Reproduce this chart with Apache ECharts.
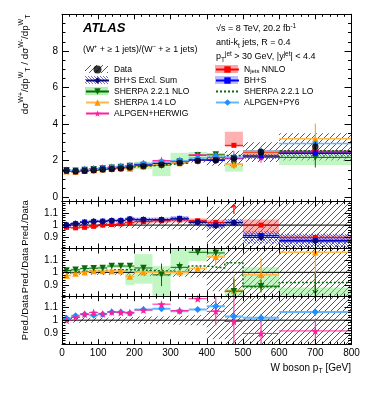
<!DOCTYPE html>
<html>
<head>
<meta charset="utf-8">
<script src="https://cdn.jsdelivr.net/npm/echarts@6.0.0/dist/echarts.min.js"></script>
</head>
<body style="margin: 0">
<div id="container" style="width: 374px; height: 396px"></div>
<script type="text/javascript">
// W boson pT bin edges [GeV]
var edges = [0, 25, 50, 75, 100, 125, 150, 175, 200, 250, 300, 350, 400, 450, 500, 600, 800];

// measured (W+ + >=1 jet)/(W- + >=1 jet) ratio
var dataVal = [1.46, 1.42, 1.45, 1.48, 1.52, 1.54, 1.58, 1.63, 1.70, 1.78, 1.87, 1.98, 2.03, 2.12, 2.47, 2.76];
var dataSyst = [0.02, 0.02, 0.02, 0.02, 0.02, 0.02, 0.025, 0.025, 0.03, 0.03, 0.035, 0.04, 0.15, 0.20, 0.22, 0.27];
var dataStat = [0.004, 0.004, 0.005, 0.005, 0.006, 0.007, 0.008, 0.009, 0.01, 0.013, 0.017, 0.022, 0.03, 0.045, 0.06, 0.09];

// Pred./Data, top ratio panel
var bhsExcl = [1.000, 1.010, 1.022, 1.030, 1.030, 1.036, 1.036, 1.048, 1.043, 1.043, 1.050, 1.022, 0.995, 1.020, 0.900, 0.870];
var bhsExclErr = [0.012, 0.012, 0.012, 0.012, 0.012, 0.013, 0.013, 0.014, 0.015, 0.016, 0.018, 0.02, 0.025, 0.03, 0.05, 0.06];
var njets = [0.982, 0.978, 0.982, 0.990, 1.000, 1.005, 1.010, 1.020, 1.028, 1.035, 1.042, 1.035, 1.022, 1.34, 1.000, 0.900];
var njetsLo = [0.972, 0.968, 0.972, 0.978, 0.988, 0.993, 0.996, 1.005, 1.012, 1.018, 1.022, 1.015, 1.000, 1.30, 0.930, 0.875];
var njetsHi = [0.992, 0.988, 0.992, 1.002, 1.012, 1.017, 1.024, 1.035, 1.044, 1.052, 1.062, 1.055, 1.044, 1.69, 1.045, 0.920];
var bhs = [1.000, 1.012, 1.025, 1.030, 1.032, 1.037, 1.038, 1.050, 1.046, 1.045, 1.055, 1.025, 1.000, 1.020, 0.915, 0.875];
var bhsErr = [0.012, 0.012, 0.012, 0.013, 0.013, 0.014, 0.014, 0.015, 0.016, 0.017, 0.018, 0.02, 0.022, 0.025, 0.02, 0.02];

// Pred./Data, middle ratio panel
var sherpaNlo = [1.015, 1.020, 1.030, 1.033, 1.035, 1.050, 1.050, 1.050, 1.035, 0.980, 1.040, 1.160, 1.155, 0.850, 0.890, 0.790];
var sherpaNloErr = [0.005, 0.005, 0.005, 0.006, 0.006, 0.007, 0.008, 0.01, 0.012, 0.09, 0.04, 0.02, 0.04, 0.1, 0.05, 0.2];
var sherpaNloLo = [1.003, 1.008, 1.018, 1.020, 1.020, 1.035, 1.035, 0.900, 0.910, 0.650, 0.980, 1.090, 1.115, 0.660, 0.870, 0.640];
var sherpaNloHi = [1.027, 1.032, 1.042, 1.046, 1.050, 1.065, 1.065, 1.055, 1.145, 1.050, 1.300, 1.250, 1.190, 0.870, 1.040, 0.880];
var sherpa14 = [0.975, 0.990, 1.000, 1.010, 1.010, 1.010, 1.010, 0.967, 1.000, 1.000, 1.000, 1.030, 1.125, 0.855, 0.980, 1.160];
var sherpa14Err = [0.006, 0.006, 0.006, 0.006, 0.007, 0.007, 0.008, 0.009, 0.01, 0.012, 0.015, 0.02, 0.06, 0.12, 0.13, 0.3];
var sherpaLo = [0.995, 1.005, 1.010, 1.010, 1.015, 1.020, 1.020, 1.020, 1.015, 1.010, 1.000, 1.050, 1.035, 1.076, 0.885, 0.920];

// Pred./Data, bottom ratio panel
var alpPy6 = [1.015, 1.036, 1.047, 1.040, 1.047, 1.064, 1.064, 1.055, 1.085, 1.090, 1.070, 1.085, 1.110, 1.030, 1.020, 1.065];
var alpPy6Err = [0.005, 0.005, 0.006, 0.006, 0.006, 0.007, 0.007, 0.008, 0.01, 0.01, 0.012, 0.015, 0.03, 0.03, 0.03, 0.03];
var alpHw = [1.000, 1.022, 1.047, 1.060, 1.050, 1.064, 1.060, 1.060, 1.080, 1.127, 1.076, 1.170, 1.070, 0.990, 0.895, 0.915];
var alpHwErr = [0.01, 0.01, 0.01, 0.01, 0.01, 0.01, 0.012, 0.012, 0.015, 0.02, 0.02, 0.02, 0.11, 0.2, 0.13, 0.1];

var centers = dataVal.map(function (v, i) { return (edges[i] + edges[i + 1]) / 2; });

var FONT = '"Liberation Sans", Arial, sans-serif';
var RMIN = 0.81, RMAX = 1.19;
var NAVY = '#0c0c70', RED = '#ff0000', BLUE = '#0000ff', GREEN = '#0a690a',
    ORANGE = '#ff9900', ORANGE_L = '#ffb84d', PINK = '#ff1e9b', LBLUE = '#1e8fff', LBLUE_L = '#66b5ff';
var STAR = 'path://M0,-10L2.35,-3.24L9.51,-3.09L3.8,1.24L5.88,8.09L0,4L-5.88,8.09L-3.8,1.24L-9.51,-3.09L-2.35,-3.24Z';

var dom = document.getElementById("container");
var myChart = echarts.init(dom);

function hatch(color, step, dir, width, back) {
    var c = document.createElement('canvas');
    c.width = c.height = step;
    var ctx = c.getContext('2d');
    if (back) { ctx.fillStyle = back; ctx.fillRect(0, 0, step, step); }
    ctx.strokeStyle = color;
    ctx.lineWidth = width;
    ctx.beginPath();
    for (var k = -1; k <= 1; k++) {
        if (dir > 0) { ctx.moveTo(k * step, step); ctx.lineTo(k * step + step, 0); }
        else { ctx.moveTo(k * step, 0); ctx.lineTo(k * step + step, step); }
    }
    ctx.stroke();
    return {image: c, repeat: 'repeat'};
}
var dataHatch = hatch('#444', 6, 1, 0.9);
var exclHatch = hatch('#3535b0', 3, -1, 0.7);

// panels: main + three ratio panels
var panels = [
    {top: 14.3, height: 187.4, min: -0.24, max: 10, major: [0, 2, 4, 6, 8], step: 0.5},
    {top: 201.7, height: 46.8, min: RMIN, max: RMAX, major: [0.9, 1, 1.1], step: 0.02},
    {top: 248.5, height: 47.7, min: RMIN, max: RMAX, major: [0.9, 1, 1.1], step: 0.02},
    {top: 296.2, height: 48.0, min: RMIN, max: RMAX, major: [0.9, 1, 1.1], step: 0.02}
];

var grid = [], xAxis = [], yAxis = [];
panels.forEach(function (p, g) {
    grid.push({left: 62, top: p.top, width: 289.5, height: p.height});
    ['bottom', 'top'].forEach(function (pos) {
        xAxis.push({
            gridIndex: g, type: 'value', min: 0, max: 800, interval: 100, position: pos, z: 10,
            axisLine: {show: true, onZero: false, lineStyle: {color: '#000', width: 1}},
            axisTick: {show: true, inside: true, length: 5, lineStyle: {color: '#000', width: 1}},
            minorTick: {show: true, splitNumber: 5, length: 2.5, lineStyle: {color: '#000', width: 1}},
            axisLabel: {show: g === 3 && pos === 'bottom', color: '#000', fontSize: 10, fontFamily: FONT, margin: 4},
            splitLine: {show: false}
        });
    });
    var minors = [];
    for (var v = Math.ceil(p.min / p.step) * p.step; v <= p.max + 1e-9; v += p.step) {
        minors.push(+v.toFixed(4));
    }
    ['left', 'right'].forEach(function (pos) {
        [[p.major, 7, pos === 'left'], [minors, 3.5, false]].forEach(function (t) {
            yAxis.push({
                gridIndex: g, type: 'value', min: p.min, max: p.max, position: pos, z: 10,
                axisLine: {show: true, onZero: false, lineStyle: {color: '#000', width: 1}},
                axisTick: {show: true, inside: true, length: t[1], customValues: t[0], lineStyle: {color: '#000', width: 1}},
                axisLabel: {show: t[2], customValues: t[0], color: '#000', fontSize: 10, fontFamily: FONT, margin: 4},
                splitLine: {show: false}
            });
        });
    });
});

function scaled(v, i, scale) { return scale ? v * scale[i] : v; }

function bandSeries(g, lo, hi, scale, fill, z) {
    var rows = lo.map(function (l, i) {
        return [edges[i], edges[i + 1], scaled(l, i, scale), scaled(hi[i], i, scale)];
    });
    return {
        type: 'custom', xAxisIndex: 2 * g, yAxisIndex: 4 * g, data: rows, z: z, silent: true,
        encode: {x: [0, 1], y: [2, 3]},
        renderItem: function (params, api) {
            var a = api.coord([api.value(0), api.value(3)]);
            var b = api.coord([api.value(1), api.value(2)]);
            var cs = params.coordSys;
            var r = echarts.graphic.clipRectByRect(
                {x: a[0], y: a[1], width: b[0] - a[0], height: b[1] - a[1]},
                {x: cs.x, y: cs.y, width: cs.width, height: cs.height});
            return r ? {type: 'rect', shape: r, style: {fill: fill}} : null;
        }
    };
}

function symBand(g, vals, err, scale, fill, z) {
    return bandSeries(g, vals.map(function (v, i) { return v - err[i]; }),
        vals.map(function (v, i) { return v + err[i]; }), scale, fill, z);
}

function barSeries(g, vals, err, scale, color, z) {
    var rows = vals.map(function (v, i) {
        return [centers[i], scaled(v - err[i], i, scale), scaled(v + err[i], i, scale)];
    });
    return {
        type: 'custom', xAxisIndex: 2 * g, yAxisIndex: 4 * g, data: rows, z: z || 3, silent: true,
        encode: {x: 0, y: [1, 2]},
        renderItem: function (params, api) {
            var cs = params.coordSys;
            var a = api.coord([api.value(0), api.value(2)]);
            var b = api.coord([api.value(0), api.value(1)]);
            var y1 = Math.max(a[1], cs.y), y2 = Math.min(b[1], cs.y + cs.height);
            if (y2 <= y1) return null;
            return {type: 'line', shape: {x1: a[0], y1: y1, x2: a[0], y2: y2}, style: {stroke: color, lineWidth: 1}};
        }
    };
}

function stepItems(vals, scale) {
    var out = [];
    vals.forEach(function (v, i) {
        var y = scaled(v, i, scale);
        out.push({value: [edges[i], y], symbol: 'none'});
        out.push({value: [centers[i], y]});
        out.push({value: [edges[i + 1], y], symbol: 'none'});
        out.push([edges[i + 1], null]);
    });
    return out;
}

function lineSeries(name, g, vals, scale, mark, line, width, symbol, size, rotate) {
    return {
        name: name, type: 'line', xAxisIndex: 2 * g, yAxisIndex: 4 * g, data: stepItems(vals, scale),
        symbol: symbol, symbolSize: size, symbolRotate: rotate || 0,
        showSymbol: true, showAllSymbol: true, connectNulls: false, clip: true, z: 4, silent: true,
        itemStyle: {color: mark, borderWidth: 0},
        lineStyle: {color: line, width: width}
    };
}

function histSeries(name, g, vals, scale) {
    var pts = vals.map(function (v, i) { return [edges[i], scaled(v, i, scale)]; });
    pts.push([edges[vals.length], scaled(vals[vals.length - 1], vals.length - 1, scale)]);
    return {
        name: name, type: 'line', step: 'end', xAxisIndex: 2 * g, yAxisIndex: 4 * g, data: pts,
        symbol: 'none', clip: true, z: 4, silent: true,
        itemStyle: {color: GREEN},
        lineStyle: {color: GREEN, width: 1.5, type: [2, 2]}
    };
}

function arrowSeries(g, vals, color) {
    var rows = [];
    vals.forEach(function (v, i) {
        if (v > RMAX) rows.push([centers[i], 1]);
        else if (v < RMIN) rows.push([centers[i], -1]);
    });
    return {
        type: 'custom', xAxisIndex: 2 * g, yAxisIndex: 4 * g, data: rows, z: 5, silent: true,
        renderItem: function (params, api) {
            var dir = api.value(1);
            var x = api.coord([api.value(0), 1])[0];
            var tip = api.coord([0, dir > 0 ? 1.165 : 0.835])[1];
            var base = api.coord([0, dir > 0 ? 1.09 : 0.91])[1];
            return {type: 'group', children: [
                {type: 'line', shape: {x1: x, y1: base, x2: x, y2: tip}, style: {stroke: color, lineWidth: 1.2}},
                {type: 'polyline', shape: {points: [[x - 2.5, tip + dir * 3], [x, tip], [x + 2.5, tip + dir * 3]]},
                    style: {stroke: color, fill: null, lineWidth: 1.2}}
            ]};
        }
    };
}

function unitLine(g) {
    return {type: 'line', xAxisIndex: 2 * g, yAxisIndex: 4 * g, data: [[0, 1], [800, 1]], symbol: 'none',
        z: 2, silent: true, lineStyle: {color: '#000', width: 1}};
}

var ones = dataVal.map(function () { return 1; });
var series = [];

// ---- main panel
series.push(symBand(0, ones, dataSyst, dataVal, dataHatch, 1));
series.push(bandSeries(0, sherpaNloLo, sherpaNloHi, dataVal, 'rgba(120,235,120,0.45)', 2));
series.push(bandSeries(0, njetsLo, njetsHi, dataVal, 'rgba(255,60,60,0.4)', 2));
series.push(symBand(0, bhs, bhsErr, dataVal, 'rgba(90,90,255,0.35)', 2));
series.push(symBand(0, bhsExcl, bhsExclErr, dataVal, exclHatch, 2));
series.push(lineSeries('BH+S Excl. Sum', 0, bhsExcl, dataVal, NAVY, NAVY, 1, 'diamond', 7));
series.push(lineSeries('SHERPA 2.2.1 NLO', 0, sherpaNlo, dataVal, GREEN, GREEN, 1, 'triangle', 6.5, 180));
series.push(lineSeries('SHERPA 1.4 LO', 0, sherpa14, dataVal, ORANGE, ORANGE_L, 1.5, 'triangle', 6.5));
series.push(lineSeries('ALPGEN+HERWIG', 0, alpHw, dataVal, PINK, PINK, 1, STAR, 8));
series.push(lineSeries('Njets NNLO', 0, njets, dataVal, RED, RED, 1, 'rect', 5));
series.push(lineSeries('BH+S', 0, bhs, dataVal, BLUE, BLUE, 1, 'rect', 5));
series.push(histSeries('SHERPA 2.2.1 LO', 0, sherpaLo, dataVal));
series.push(lineSeries('ALPGEN+PY6', 0, alpPy6, dataVal, LBLUE, LBLUE_L, 1.5, 'diamond', 7));
series.push(barSeries(0, sherpaNlo, sherpaNloErr, dataVal, GREEN));
series.push(barSeries(0, sherpa14, sherpa14Err, dataVal, ORANGE));
series.push(barSeries(0, alpHw, alpHwErr, dataVal, PINK));
series.push(barSeries(0, ones, dataStat, dataVal, '#000', 6));
series.push({
    name: 'Data', type: 'scatter', xAxisIndex: 0, yAxisIndex: 0, z: 7, silent: true,
    data: dataVal.map(function (v, i) { return [centers[i], v]; }),
    symbol: 'circle', symbolSize: 6.5, itemStyle: {color: '#000'}
});

// ---- ratio panel 1
series.push(symBand(1, ones, dataSyst, null, dataHatch, 1));
series.push(unitLine(1));
series.push(bandSeries(1, njetsLo, njetsHi, null, 'rgba(255,60,60,0.4)', 2));
series.push(symBand(1, bhs, bhsErr, null, 'rgba(90,90,255,0.35)', 2));
series.push(symBand(1, bhsExcl, bhsExclErr, null, exclHatch, 2));
series.push(lineSeries(null, 1, njets, null, RED, RED, 1, 'rect', 5));
series.push(lineSeries(null, 1, bhs, null, BLUE, BLUE, 1, 'rect', 5));
series.push(lineSeries(null, 1, bhsExcl, null, NAVY, NAVY, 1, 'diamond', 7));
series.push(arrowSeries(1, njets, RED));

// ---- ratio panel 2
series.push(symBand(2, ones, dataSyst, null, dataHatch, 1));
series.push(unitLine(2));
series.push(bandSeries(2, sherpaNloLo, sherpaNloHi, null, 'rgba(120,235,120,0.45)', 2));
series.push(histSeries(null, 2, sherpaLo, null));
series.push(lineSeries(null, 2, sherpa14, null, ORANGE, ORANGE_L, 1.5, 'triangle', 6.5));
series.push(lineSeries(null, 2, sherpaNlo, null, GREEN, GREEN, 1, 'triangle', 6.5, 180));
series.push(barSeries(2, sherpa14, sherpa14Err, null, ORANGE));
series.push(barSeries(2, sherpaNlo, sherpaNloErr, null, GREEN));
series.push(arrowSeries(2, sherpaNlo, GREEN));

// ---- ratio panel 3
series.push(symBand(3, ones, dataSyst, null, dataHatch, 1));
series.push(unitLine(3));
series.push(lineSeries(null, 3, alpPy6, null, LBLUE, LBLUE_L, 2, 'diamond', 7));
series.push(lineSeries(null, 3, alpHw, null, PINK, PINK, 1, STAR, 8));
series.push(barSeries(3, alpPy6, alpPy6Err, null, LBLUE));
series.push(barSeries(3, alpHw, alpHwErr, null, PINK));

var legendText = {fontSize: 8.5, fontFamily: FONT, color: '#000', lineHeight: 10,
    rich: {n: {fontSize: 8.5, fontFamily: FONT}, s: {fontSize: 6, fontFamily: FONT, verticalAlign: 'bottom'}}};
var legendBase = {orient: 'vertical', top: 64.5, itemWidth: 23, itemHeight: 8, itemGap: 1, padding: 0,
    selectedMode: false, textStyle: legendText};

var rich = {
    n: {fontSize: 9, fontFamily: FONT, lineHeight: 13},
    sup: {fontSize: 6.5, fontFamily: FONT, verticalAlign: 'top'},
    sub: {fontSize: 6.5, fontFamily: FONT, verticalAlign: 'bottom'}
};
var richY = {
    n: {fontSize: 9.8, fontFamily: FONT, lineHeight: 14},
    sup: {fontSize: 7, fontFamily: FONT, verticalAlign: 'top'},
    sub: {fontSize: 7, fontFamily: FONT, verticalAlign: 'bottom'}
};

function legendBox(x, row, fill) {
    return {type: 'rect', shape: {x: x, y: 65 + 11 * row, width: 23, height: 8}, style: {fill: fill}, z: 1};
}

option = {
    animation: false,
    grid: grid,
    xAxis: xAxis,
    yAxis: yAxis,
    legend: [
        Object.assign({left: 85, data: ['Data', 'BH+S Excl. Sum', 'SHERPA 2.2.1 NLO', 'SHERPA 1.4 LO', 'ALPGEN+HERWIG']}, legendBase),
        Object.assign({left: 215, data: ['Njets NNLO', 'BH+S', {name: 'SHERPA 2.2.1 LO', itemStyle: {opacity: 0}}, 'ALPGEN+PY6'],
            formatter: function (name) { return name === 'Njets NNLO' ? '{n|N}{s|jets}{n| NNLO}' : name; }}, legendBase)
    ],
    graphic: [
        legendBox(85, 0, dataHatch),
        legendBox(85, 1, exclHatch),
        legendBox(85, 2, 'rgba(120,235,120,0.6)'),
        legendBox(215, 0, 'rgba(255,60,60,0.45)'),
        legendBox(215, 1, 'rgba(90,90,255,0.4)'),
        {type: 'text', x: 83, y: 28, style: {text: 'ATLAS', fontSize: 13, fontWeight: 'bold', fontStyle: 'italic',
            fontFamily: FONT, fill: '#000', verticalAlign: 'middle'}},
        {type: 'text', x: 83, y: 50, style: {text: '(W\u207A + \u2265 1 jets)/(W\u207B + \u2265 1 jets)', fontSize: 8.9,
            fontFamily: FONT, fill: '#000', verticalAlign: 'middle'}},
        {type: 'text', x: 216, y: 29, style: {text: '{n|\u221As = 8 TeV, 20.2 fb}{sup|-1}', rich: rich, fill: '#000', verticalAlign: 'middle'}},
        {type: 'text', x: 216, y: 43, style: {text: '{n|anti-k}{sub|t}{n| jets, R = 0.4}', rich: rich, fill: '#000', verticalAlign: 'middle'}},
        {type: 'text', x: 216, y: 57, style: {text: '{n|p}{sub|T}{sup|jet}{n| > 30 GeV, |y}{sup|jet}{n|| < 4.4}', rich: rich, fill: '#000', verticalAlign: 'middle'}},
        {type: 'text', x: 25, y: 14.5, rotation: Math.PI / 2, style: {
            text: '{n|d\u03C3}{sup|W+}{n|/dp}{sup|W}{sub|T}{n| / d\u03C3}{sup|W-}{n|/dp}{sup|W}{sub|T}',
            rich: richY, fill: '#000', align: 'right', verticalAlign: 'middle'}},
        {type: 'text', x: 25, y: 223, rotation: Math.PI / 2, style: {text: 'Pred./Data', fontSize: 9.5, fontFamily: FONT,
            fill: '#000', align: 'center', verticalAlign: 'middle'}},
        {type: 'text', x: 25, y: 270.5, rotation: Math.PI / 2, style: {text: 'Pred./Data', fontSize: 9.5, fontFamily: FONT,
            fill: '#000', align: 'center', verticalAlign: 'middle'}},
        {type: 'text', x: 25, y: 317.5, rotation: Math.PI / 2, style: {text: 'Pred./Data', fontSize: 9.5, fontFamily: FONT,
            fill: '#000', align: 'center', verticalAlign: 'middle'}},
        {type: 'text', x: 351, y: 368, style: {text: '{n|W boson p}{sub|T}{n| [GeV]}',
            rich: {n: {fontSize: 10, fontFamily: FONT, lineHeight: 14}, sub: {fontSize: 7, fontFamily: FONT, verticalAlign: 'bottom'}},
            fill: '#000', align: 'right', verticalAlign: 'middle'}}
    ],
    series: series
};

if (option && typeof option === "object") {
    myChart.setOption(option, true);
}
</script>
</body>
</html>
